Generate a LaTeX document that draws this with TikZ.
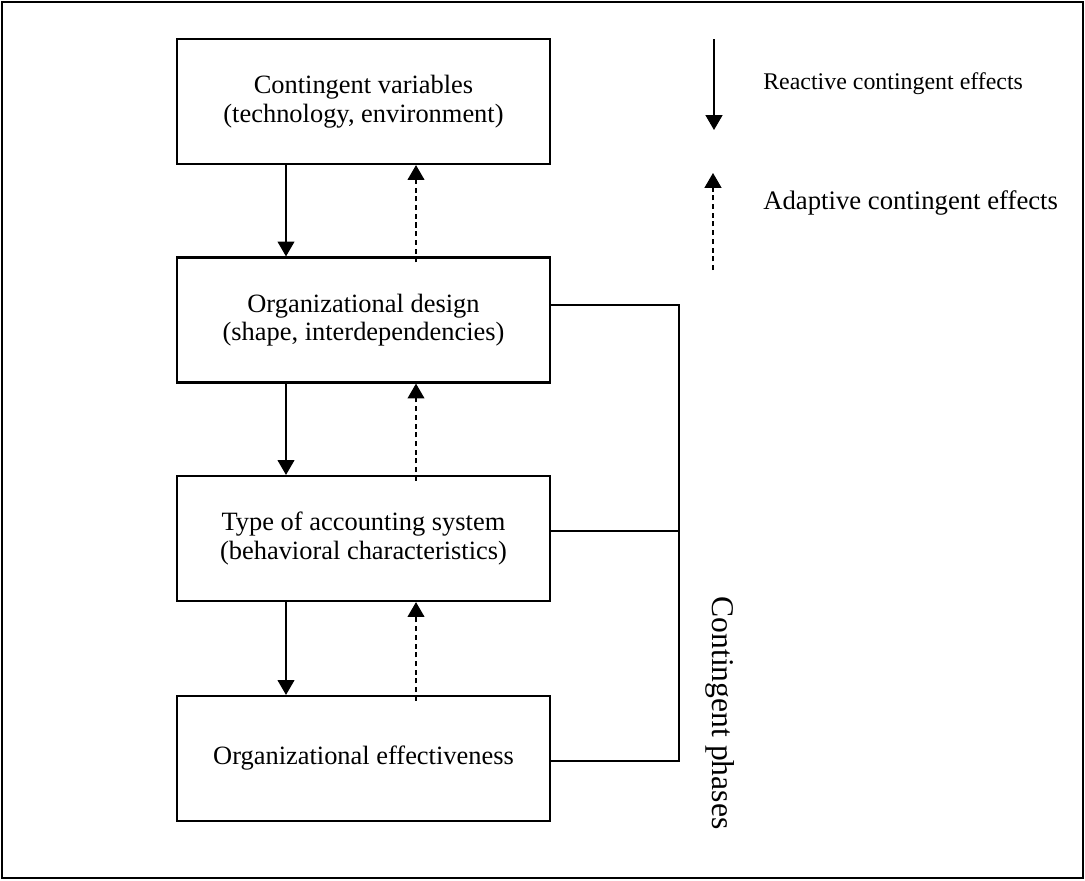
\documentclass[tikz,border=0pt]{standalone}
\usepackage{fontspec}
\setmainfont{Liberation Serif}
\usetikzlibrary{calc,arrows.meta,positioning}

\begin{document}
\begin{tikzpicture}[x=0.25mm,y=-0.25mm,
    box/.style={draw,line width=1.6pt,minimum width=93.25mm,minimum height=31.25mm,
      align=center,font=\fontsize{18.8}{20.3}\selectfont},
    reactive/.style={-{Triangle[width=12pt,length=10.5pt]},line width=0.75pt},
    adaptive/.style={reactive,dash pattern=on 3.6pt off 2.6pt}]
      \useasboundingbox (0,0) rectangle (1085,880);
      \draw[line width=1.7pt] (2,2) rectangle (1083,878);

      \node[box] (C) at (363.5,101.5) {Contingent variables\\(technology, environment)};
      \node[box] (D) at (363.5,320) {Organizational design\\(shape, interdependencies)};
      \node[box] (A) at (363.5,538.5) {Type of accounting system\\(behavioral characteristics)};
      \node[box] (E) at (363.5,758.5) {Organizational effectiveness};

      \begin{scope}[anchor=west,inner sep=0pt]
        \coordinate (Rs) at (714,39);
        \coordinate (Re) at (714,130);
        \node[font=\fontsize{17}{18}\selectfont] (Rc) at (763,84) {Reactive contingent effects};
        \coordinate (As) at (713,270);
        \coordinate (Ae) at (713,173);
        \node[font=\fontsize{19}{20}\selectfont] (Ac) at (763,203) {Adaptive contingent effects};
      \end{scope}

      \node[rotate=-90,font=\fontsize{22.5}{24}\selectfont] (P) at (720,713) {Contingent phases};

      \draw[reactive] (Rs) -- (Re);
      \draw[adaptive] (As) -- (Ae);

      \foreach \a/\b in {C/D,D/A,A/E}{
        \draw[reactive] ($(\a.south)+(-77.5,0)$) -- ($(\b.north)+(-77.5,0)$);
        \draw[adaptive] ($(\b.north)+(52.5,6)$) -- ($(\a.south)+(52.5,0)$);
      }

      \coordinate (B) at (679,305);
      \draw[line width=0.75pt] ($(D.east)+(0,-15)$) -- (B) |- ($(E.east)+(0,2.5)$);
      \draw[line width=0.75pt] ($(A.east)+(0,-7.5)$) -- ($(A.east)+(129,-7.5)$);
    \end{tikzpicture}
\end{document}
